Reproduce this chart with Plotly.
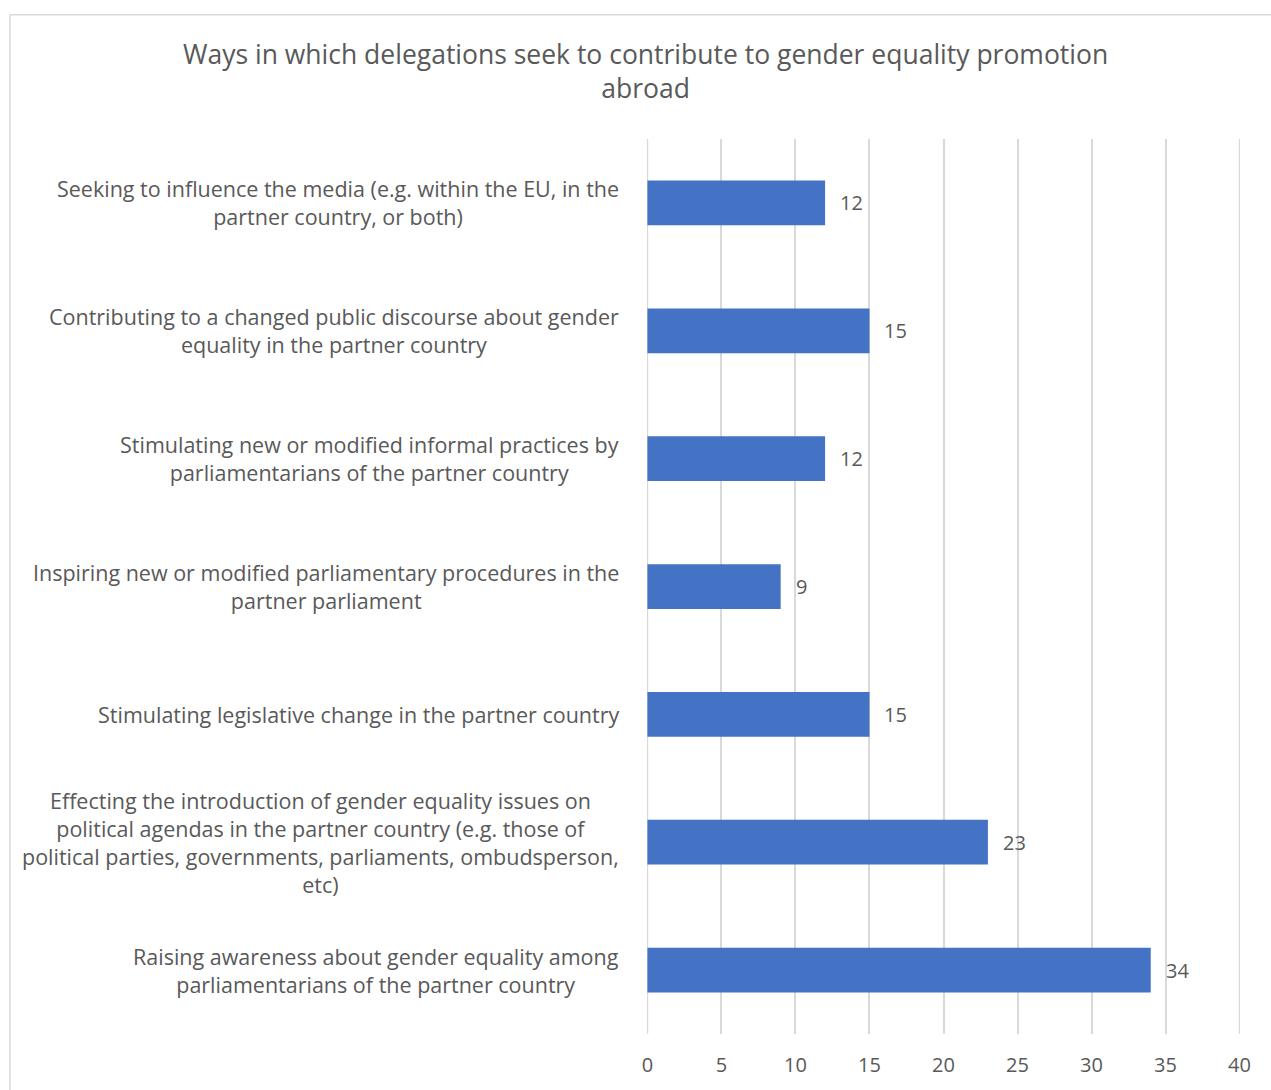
import plotly.graph_objects as go

# -------------------------------------------------
# Data
# -------------------------------------------------
categories = [
    "Seeking to influence the media (e.g. within the EU, in the<br>partner country, or both)",
    "Contributing to a changed public discourse about gender<br>equality in the partner country",
    "Stimulating new or modified informal practices by<br>parliamentarians of the partner country",
    "Inspiring new or modified parliamentary procedures in the<br>partner parliament",
    "Stimulating legislative change in the partner country",
    "Effecting the introduction of gender equality issues on<br>political agendas in the partner country (e.g. those of<br>political parties, governments, parliaments, ombudsperson,<br>etc)",
    "Raising awareness about gender equality among<br>parliamentarians of the partner country",
]
counts = [12, 15, 12, 9, 15, 23, 34]
x_ticks = [0, 5, 10, 15, 20, 25, 30, 35, 40]

title_text = "Ways in which delegations seek to contribute to gender equality promotion<br>abroad"

FONT = "Open Sans"
GREY = "#595959"
GRID = "#d9d9d9"

# page geometry (px)
W, H = 1271, 1090
L, R, T, B = 647, 31, 139, 51
plot_w = W - L - R
plot_h = H - T - B


def px_x(px):
    return (px - L) / plot_w


def px_y(px):
    return (H - B - px) / plot_h


fig = go.Figure()

# ---- Edge gridlines (plotly drops the ones sitting on the range ends) ----
for tv in (x_ticks[0], x_ticks[-1]):
    fig.add_shape(
        type="line", xref="x", yref="paper",
        x0=tv, x1=tv, y0=0, y1=1,
        line=dict(color=GRID, width=1.5),
        layer="below",
    )

# ---- Bars ----
fig.add_trace(
    go.Bar(
        x=counts,
        y=list(range(len(categories))),
        orientation="h",
        marker=dict(color="#4472C4", line=dict(width=0)),
        width=0.35,
        hoverinfo="x",
    )
)

# ---- Value labels ----
for i, v in enumerate(counts):
    fig.add_annotation(
        x=v, y=i, xref="x", yref="y",
        text=str(v), showarrow=False,
        xanchor="left", xshift=13,
        font=dict(family=FONT, size=20, color=GREY),
    )

# ---- Category labels (centred lines, right aligned block) ----
for i, c in enumerate(categories):
    fig.add_annotation(
        x=0, y=i, xref="paper", yref="y",
        text=c, showarrow=False,
        xanchor="right", xshift=-26, align="center",
        font=dict(family=FONT, size=21.5, color=GREY),
    )

# ---- Title ----
fig.add_annotation(
    x=px_x(645), y=px_y(71), xref="paper", yref="paper",
    text=title_text, showarrow=False,
    xanchor="center", yanchor="middle", align="center",
    font=dict(family=FONT, size=26.5, color=GREY),
)

# ---- Chart border ----
fig.add_shape(
    type="rect", xref="paper", yref="paper",
    x0=px_x(10), x1=px_x(1285), y0=px_y(1110), y1=px_y(14),
    line=dict(color=GRID, width=1.5),
)

fig.update_layout(
    width=W,
    height=H,
    margin=dict(l=L, r=R, t=T, b=B),
    paper_bgcolor="white",
    plot_bgcolor="white",
    showlegend=False,
    xaxis=dict(
        range=[-0.03, 40.03],
        tickvals=x_ticks,
        showgrid=True,
        gridcolor=GRID,
        gridwidth=1.5,
        zeroline=False,
        showline=False,
        ticks="",
        tickfont=dict(family=FONT, size=20, color=GREY),
        ticklabelstandoff=17,
    ),
    yaxis=dict(
        range=[len(categories) - 0.5, -0.5],
        showticklabels=False,
        showgrid=False,
        zeroline=False,
        showline=False,
    ),
)

fig.write_html(
    "out.html",
    config={"displayModeBar": False},
    post_script="document.body.style.margin='0';document.body.style.overflow='hidden';",
)
